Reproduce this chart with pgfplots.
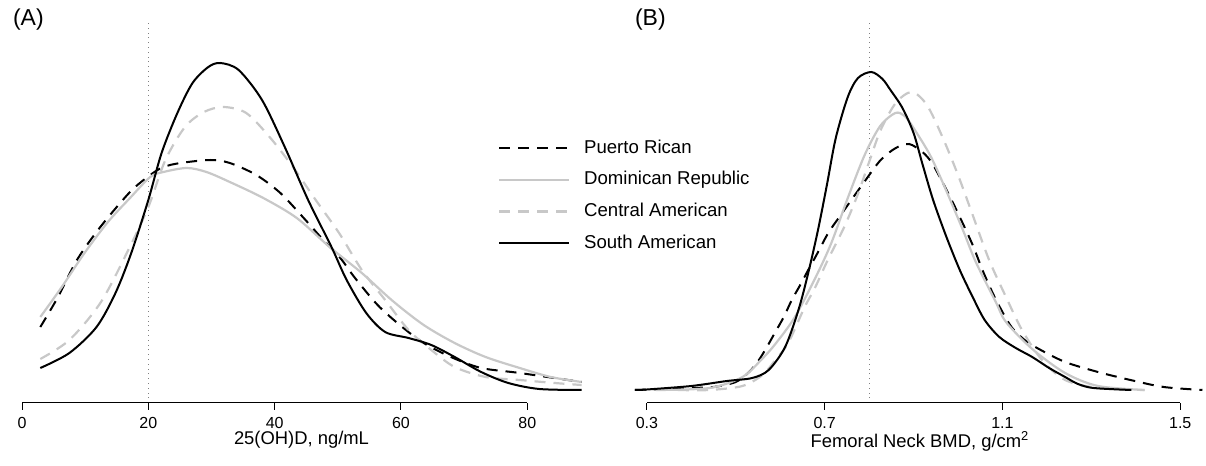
\documentclass[border=0pt]{standalone}
\usepackage{fontspec}
\setmainfont{Liberation Sans}
\usepackage{pgfplots}
\pgfplotsset{compat=1.18}

\definecolor{lgray}{RGB}{200,200,200}

\pgfplotsset{
  dens/.style={
    scale only axis, anchor=south west, clip=false,
    height=176.5pt, ymin=-13, ymax=340,
    axis y line=none, axis x line*=bottom,
    x axis line style={draw=none},
    tick align=outside, major tick length=3.5pt,
    tick style={black, line width=0.5pt},
    /pgf/number format/assume math mode=true,
    ticklabel style={font=\fontsize{8}{9}\selectfont},
    label style={font=\fontsize{9.2}{10}\selectfont},
    xlabel style={yshift=5.5pt},
  },
  pr/.style={black, line width=1pt, dash pattern=on 5.5pt off 4pt, smooth},
  dr/.style={lgray, line width=1.1pt, smooth},
  ca/.style={lgray, line width=1.1pt, dash pattern=on 5.5pt off 4pt, smooth},
  sa/.style={black, line width=1pt, smooth},
  ref/.style={gray, dotted, line width=0.4pt},
}

\begin{document}
\begin{tikzpicture}
\path[use as bounding box] (0,0) rectangle (603pt,233pt);

% (A) 25(OH)D
\begin{axis}[dens, at={(11pt,31.5pt)}, width=279.5pt,
  xmin=0, xmax=88.5, xtick={0,20,40,60,80},
  xlabel={25(OH)D, ng/mL},
  legend style={at={(rel axis cs:0.84,0.77)}, anchor=north west,
    draw=none, fill=none, font=\fontsize{9.3}{10}\selectfont,
    row sep=3.7pt,
    /tikz/every even column/.append style={column sep=8pt}},
  legend cell align=left,
  legend image code/.code={\draw[#1] (0pt,0pt) -- (35pt,0pt); \path (40pt,0pt);},
]
\addplot[ref, forget plot] coordinates {(20,-13) (20,368)};
\addplot[black, line width=0.5pt, forget plot] coordinates {(0,-13) (80,-13)};
\addplot[pr] coordinates {
(2.9,63) (5.7,93) (8.7,130) (12.4,163) (17.1,198) (20.3,215) (22.4,223) (25.1,227)
(29.8,230) (32.9,227) (37.1,215) (40.9,197) (44.6,172) (47.7,150) (50.4,132)
(52.6,113) (56.3,85) (60,64) (63.6,47) (67.9,33) (72.7,22) (78.8,17) (88.6,8)};
\addlegendentry{Puerto Rican}
\addplot[dr] coordinates {
(2.9,73) (6.3,103) (9.9,137) (13.6,168) (17.1,192) (20.3,213) (22.4,218) (26.1,222)
(29.2,218) (32.9,208) (38.2,192) (43.5,172) (48.7,143) (53.8,117) (58.7,89)
(63.6,65) (68.5,47) (73.4,33) (78.8,22) (83.7,13) (88.6,8)};
\addlegendentry{Dominican Republic}
\addplot[ca] coordinates {
(2.9,31) (7.5,50) (12.4,87) (16.6,137) (20,183) (22.7,230) (25.8,263) (28.8,278)
(31.9,283) (35.5,277) (39.2,253) (42.9,223) (46.5,190) (50.2,157) (53.8,120)
(57.5,90) (61.2,60) (64.8,40) (68.5,23) (73.4,13) (78.8,10) (84.3,7) (88.6,5)};
\addlegendentry{Central American}
\addplot[sa] coordinates {
(2.9,22) (7.5,37) (11.8,63) (14.8,97) (17.3,137) (20,190) (22.1,237) (24.6,277)
(27,307) (29.5,323) (31.4,327) (34.3,320) (38,290) (41.6,243) (45.3,190)
(49,143) (51.4,110) (54.5,77) (57.5,58) (61.2,52) (64.8,45) (68.5,33)
(72.7,18) (77,7) (81.9,1) (88.6,0)};
\addlegendentry{South American}
\end{axis}

% (B) Femoral neck BMD
\begin{axis}[dens, at={(317pt,31.5pt)}, width=286pt,
  xmin=0.271, xmax=1.558, xtick={0.3,0.7,1.1,1.5},
  xticklabel style={/pgf/number format/.cd, fixed, precision=1, fixed zerofill},
  xlabel={Femoral Neck BMD, g/cm\textsuperscript{2}},
]
\addplot[ref] coordinates {(0.8,-13) (0.8,368)};
\addplot[black, line width=0.5pt] coordinates {(0.3,-13) (1.5,-13)};
\addplot[pr] coordinates {
(0.273,0) (0.40,2) (0.45,3) (0.50,8) (0.53,18) (0.552,30) (0.57,43) (0.589,58)
(0.608,73) (0.626,90) (0.645,105) (0.663,120) (0.684,137) (0.708,157)
(0.733,173) (0.76,190) (0.789,208) (0.826,230) (0.86,242) (0.89,246)
(0.92,238) (0.94,228) (0.959,213) (0.98,195) (1.004,173) (1.033,145)
(1.055,120) (1.078,97) (1.10,78) (1.122,62) (1.15,50) (1.182,41) (1.241,28)
(1.315,18) (1.388,10) (1.463,3) (1.55,0)};
\addplot[dr] coordinates {
(0.32,0) (0.441,2) (0.515,13) (0.559,31) (0.589,46) (0.633,73) (0.68,113)
(0.715,147) (0.752,192) (0.79,235) (0.825,264) (0.859,277) (0.88,274)
(0.90,262) (0.937,235) (0.97,203) (1.011,160) (1.04,128) (1.085,88)
(1.108,68) (1.167,41) (1.241,17) (1.315,4) (1.42,0)};
\addplot[ca] coordinates {
(0.37,0) (0.441,0) (0.515,4) (0.56,15) (0.589,30) (0.618,47) (0.655,83)
(0.678,102) (0.707,130) (0.744,163) (0.774,195) (0.80,228) (0.826,260)
(0.86,287) (0.896,298) (0.93,285) (0.965,253) (1.0,215) (1.033,175)
(1.07,130) (1.108,93) (1.144,60) (1.189,30) (1.241,10) (1.315,2) (1.42,0)};
\addplot[sa] coordinates {
(0.273,0) (0.30,0.5) (0.40,4) (0.48,9) (0.537,12) (0.574,20) (0.611,43)
(0.641,80) (0.663,117) (0.685,160) (0.705,205) (0.725,252) (0.752,293)
(0.775,312) (0.805,318) (0.83,311) (0.848,300) (0.875,282) (0.9,257)
(0.92,226) (0.944,190) (0.974,153) (1.004,120) (1.033,93) (1.06,70)
(1.093,53) (1.13,42) (1.167,33) (1.205,22) (1.241,13) (1.27,6) (1.305,2)
(1.39,0)};
\end{axis}

\node[anchor=west, font=\fontsize{11.5}{13}\selectfont] at (3pt,223pt) {(A)};
\node[anchor=west, font=\fontsize{11.5}{13}\selectfont] at (314pt,223pt) {(B)};
\end{tikzpicture}
\end{document}
